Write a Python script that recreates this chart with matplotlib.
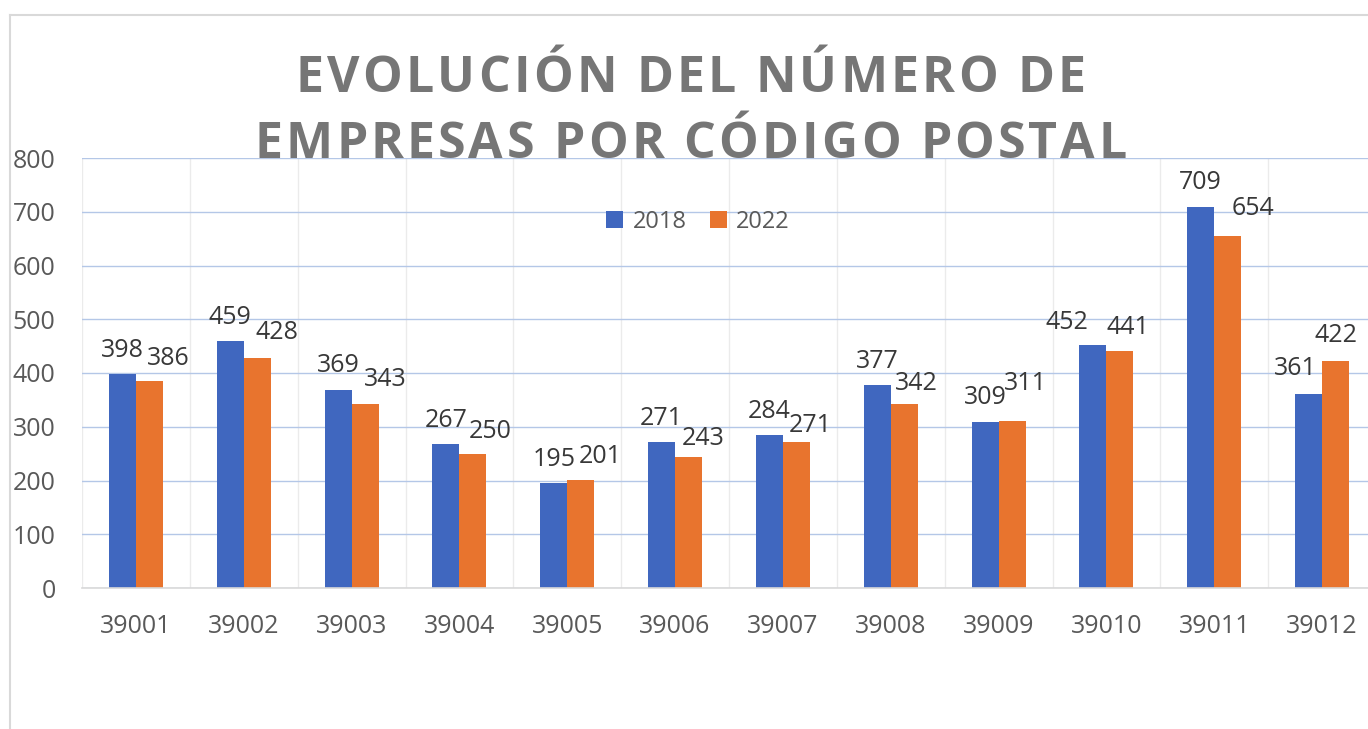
import matplotlib
matplotlib.use("Agg")
import matplotlib.pyplot as plt
from matplotlib.lines import Line2D
from matplotlib import font_manager

plt.rcParams['font.family'] = ['Open Sans', 'DejaVu Sans']

codigos = ['39001', '39002', '39003', '39004', '39005', '39006',
           '39007', '39008', '39009', '39010', '39011', '39012']
emp_2018 = [398, 459, 369, 267, 195, 271, 284, 377, 309, 452, 709, 361]
emp_2022 = [386, 428, 343, 250, 201, 243, 271, 342, 311, 441, 654, 422]

# desplazamiento de las etiquetas (px), colocadas a mano en el original
nudge_2018 = [(0, 24)] * 9 + [(-26, 23), (0, 24), (-13, 25)]
nudge_2022 = [(19, 22), (20, 25), (20, 24), (17, 22), (20, 23), (15, 19),
              (14, 17), (12, 21), (13, 37), (8, 23), (25, 28), (0, 26)]

titulo = ['EVOLUCIÓN DEL NÚMERO DE', 'EMPRESAS POR CÓDIGO POSTAL']

azul = '#4067BF'
naranja = '#E8742E'
gris_txt = '#595959'

fig = plt.figure(figsize=(13.68, 7.29), dpi=100)
W, H = 1368, 729

# marco del grafico
fig.add_artist(Line2D([10 / W, 10 / W], [0, 1 - 15 / H], color='#d9d9d9', lw=1.5))
fig.add_artist(Line2D([10 / W, 1], [1 - 15 / H, 1 - 15 / H], color='#d9d9d9', lw=1.5))

ax = fig.add_axes([82 / W, 1 - 588 / H, 1294 / W, 430 / H])

x = list(range(len(codigos)))
bw = 0.25
b1 = ax.bar([i - bw / 2 for i in x], emp_2018, bw, color=azul, label='2018', zorder=3)
b2 = ax.bar([i + bw / 2 for i in x], emp_2022, bw, color=naranja, label='2022', zorder=3)

for barras, vals, nudge in [(b1, emp_2018, nudge_2018), (b2, emp_2022, nudge_2022)]:
    for rect, v, (dx, dy) in zip(barras, vals, nudge):
        ax.annotate(str(v), (rect.get_x() + rect.get_width() / 2, v), xytext=(dx, dy),
                    textcoords='offset pixels', ha='center', va='center',
                    fontsize=18, color='#383838', zorder=4)

ax.set_xlim(-0.5, len(codigos) - 0.5)
ax.set_ylim(0, 800)
ax.set_yticks(range(0, 801, 100))
ax.set_xticks(x)
ax.set_xticklabels(codigos)
ax.tick_params(axis='both', length=0, labelsize=18, labelcolor=gris_txt)
ax.tick_params(axis='x', pad=19)
ax.tick_params(axis='y', pad=19)

ax.set_xticks([i + 0.5 for i in range(-1, len(codigos))], minor=True)
ax.tick_params(axis='x', which='minor', length=0)
ax.grid(axis='y', which='major', color='#b4c7e7', lw=1, zorder=0)
ax.grid(axis='x', which='minor', color='#ebebeb', lw=1, zorder=0)
ax.grid(axis='x', which='major', visible=False)

for s in ['top', 'right', 'left']:
    ax.spines[s].set_visible(False)
ax.spines['bottom'].set_color('#d9d9d9')
ax.spines['bottom'].set_linewidth(1.2)
ax.spines['bottom'].set_zorder(3)

leg = ax.legend(loc='center', bbox_to_anchor=(698 / W, 1 - 222 / H),
                bbox_transform=fig.transFigure, ncol=2, frameon=False,
                fontsize=17, handlelength=0.7, handleheight=0.7,
                handletextpad=0.4, columnspacing=1.0)
for t in leg.get_texts():
    t.set_color(gris_txt)

# titulo con espaciado entre letras, letra a letra
prop = font_manager.FontProperties(family='Open Sans', weight='bold', size=36)
font = font_manager.get_font(font_manager.findfont(prop))
font.set_size(36, 100)
esc = 64 * plt.rcParams['text.hinting_factor']
espacio = 3.2
for linea, yb in zip(titulo, [92, 158]):
    metr = []
    for c in linea:
        g = font.load_char(ord(c))
        metr.append((g.horiAdvance / esc, g.horiBearingX / esc))
    total = sum(a for a, _ in metr) + espacio * (len(linea) - 1)
    xpos = 690 - total / 2
    for c, (adv, lsb) in zip(linea, metr):
        if c != ' ':
            fig.text((xpos + lsb) / W, 1 - yb / H, c, ha='left', va='baseline',
                     fontproperties=prop, color='#767676')
        xpos += adv + espacio

fig.savefig('out.png', dpi=100, facecolor='white')
